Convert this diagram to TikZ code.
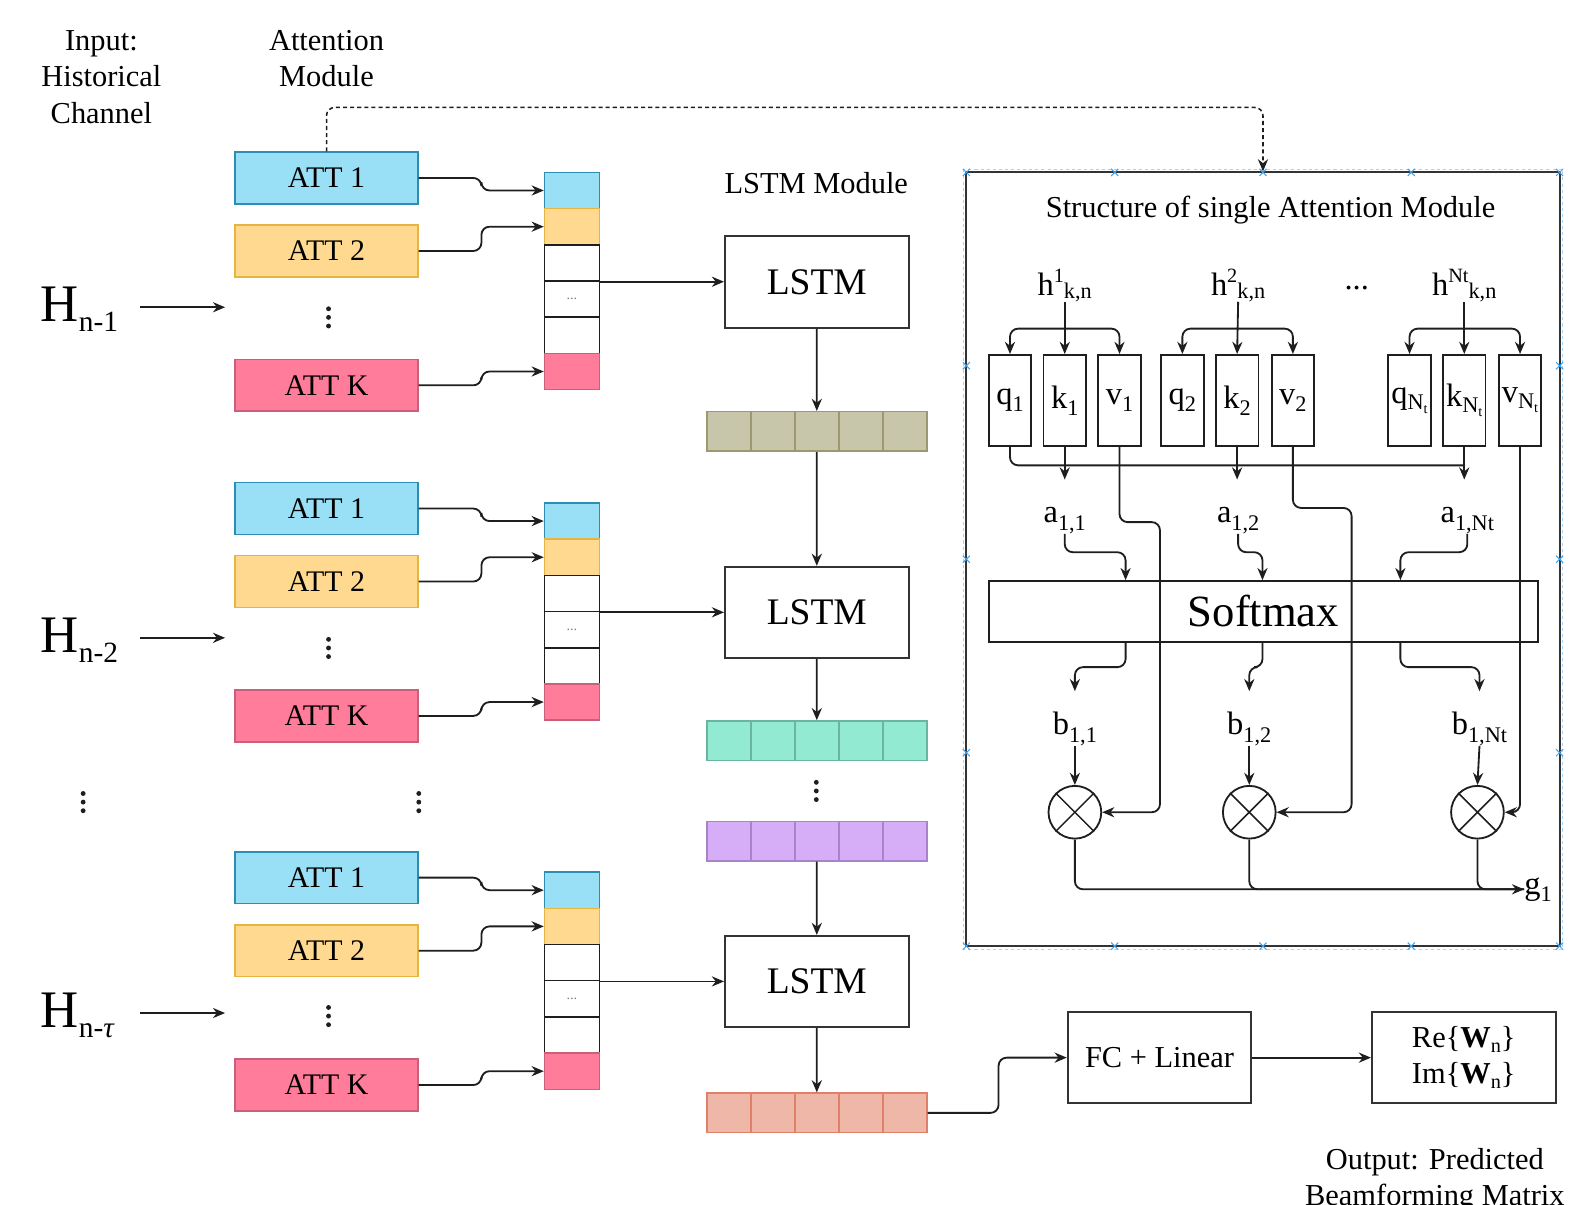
\documentclass[tikz,border=0pt]{standalone}
\usepackage{fontspec}
\setmainfont{Liberation Serif}
\usetikzlibrary{arrows.meta,calc}
\definecolor{att1}{HTML}{99E0F6}
\definecolor{att1d}{HTML}{2E8DB3}
\definecolor{att2}{HTML}{FED98F}
\definecolor{att2d}{HTML}{E6B440}
\definecolor{attk}{HTML}{FF7C9A}
\definecolor{attkd}{HTML}{C8607C}
\definecolor{wht}{HTML}{FFFFFF}
\definecolor{whtd}{HTML}{1E1E1E}
\definecolor{olv}{HTML}{C7C6AA}
\definecolor{olvd}{HTML}{9A9970}
\definecolor{tel}{HTML}{92EAD3}
\definecolor{teld}{HTML}{6AB5A0}
\definecolor{prp}{HTML}{D6AEF8}
\definecolor{prpd}{HTML}{A983C8}
\definecolor{slm}{HTML}{EEB7A7}
\definecolor{slmd}{HTML}{E0806A}
\definecolor{linec}{HTML}{1E1E1E}
\definecolor{boxd}{HTML}{333333}
\definecolor{selb}{HTML}{3FA2EE}
\definecolor{sell}{HTML}{A8D2F7}
\newcommand{\myfs}[1]{\fontsize{#1}{#1}\selectfont}
\newcommand{\sbx}[3]{\raisebox{#1}{\fontsize{#2}{#2}\selectfont #3}}
\begin{document}
\begin{tikzpicture}[x=1pt,y=-1pt,
  conn/.style={draw=linec,line width=1.8pt},
  arr/.style={conn,-{Stealth[length=12pt,width=10pt]}},
  rc/.style={rounded corners=8pt},
  attstyle/.style={draw=#1d, fill=#1, line width=1.5pt, minimum width=180, minimum height=51, inner sep=0pt, font=\myfs{29.5}},
  cell/.style={draw=#1d, fill=#1, line width=1.5pt, minimum width=54, minimum height=35.7, inner sep=0pt},
  vcell/.style={draw=#1d, fill=#1, line width=1.5pt, minimum width=43.4, minimum height=39, inner sep=0pt},
  bigbox/.style={draw=boxd, line width=2pt, fill=white, minimum width=181, minimum height=90, inner sep=0pt},
  qkv/.style={draw=linec, line width=1.8pt, minimum width=42, minimum height=90, inner sep=0pt, font=\myfs{32}},
  lbl/.style={inner sep=0pt, font=\myfs{32}},
  txt/.style={inner sep=0pt, font=\myfs{30}},
  otimes/.style={circle, draw=linec, line width=1.8pt, minimum size=52, inner sep=0pt}
]
\useasboundingbox (0,0) rectangle (1568,1188);

% ---- top labels
\node[txt, align=center, font=\fontsize{30}{36}\selectfont] (inlbl) at (100,76) {Input:\\Historical\\Channel};
\node[txt, align=center, font=\fontsize{30}{36}\selectfont] (attlbl) at (322,58) {Attention\\Module};
\node[txt] (lstmlbl) at (805,181) {LSTM Module};

% ---- three rows
\foreach \r/\o/\hy/\lab in {1/0/303/{n-1}, 2/326/629/{n-2}, 3/690/999/{n-\textit{τ}}}{
  \node[anchor=base west, inner sep=0pt, font=\myfs{52}] (H\r) at (40,\hy+14) {H\sbx{-10pt}{29}{\lab}};
  \coordinate (hs\r) at (138,\hy);
  \coordinate (he\r) at (222,\hy);
  \draw[arr] (hs\r) -- (he\r);
  \node[attstyle=att1] (attA\r) at (322,175.5+\o) {ATT 1};
  \node[attstyle=att2] (attB\r) at (322,247.5+\o) {ATT 2};
  \node[attstyle=attk] (attK\r) at (322,380+\o) {ATT K};
  \foreach \i/\c in {1/att1,2/att2,3/wht,4/wht,5/wht,6/attk}{
    \node[cell=\c] (s\r\i) at (564,{170+\o+(\i-0.5)*35.7}) {};
  }
  \node[inner sep=0pt, font=\myfs{14}, text=gray] at (s\r4) {...};
  \draw[arr,rc] (attA\r.east) -- ++(62,0) |- (s\r1.west);
  \draw[arr,rc] (attB\r.east) -- ++(62,0) |- (s\r2.west);
  \draw[arr,rc] (attK\r.east) -- ++(62,0) |- (s\r6.west);
  \node[bigbox, font=\myfs{37}] (lstm\r) at (805.5,278+\o) {LSTM};
  \draw[arr] (s\r3.south east) -- (s\r3.south east -| lstm\r.west);
}

% ---- vertical dots
\foreach \xx/\yy in {324/313, 324/639, 324/1002, 82/791, 413/791, 805/780}{
  \foreach \k in {-1,0,1} \fill[linec] (\xx,{\yy+\k*8.5}) circle (2.4);
}

% ---- hidden state vectors
\foreach \n/\yy/\c in {olive/425.5/olv, teal/730.5/tel, purple/829.5/prp, salmon/1097.5/slm}{
  \foreach \j in {1,...,5} \node[vcell=\c] (\n\j) at ({697+(\j-0.5)*43.4},\yy) {};
}
\draw[arr] (lstm1.south) -- (olive3.north);
\draw[arr] (olive3.south) -- (lstm2.north);
\draw[arr] (lstm2.south) -- (teal3.north);
\draw[arr] (purple3.south) -- (lstm3.north);
\draw[arr] (lstm3.south) -- (salmon3.north);

% ---- output
\node[bigbox, font=\myfs{30}] (fc) at (1143.5,1043) {FC + Linear};
\node[bigbox, align=center, font=\fontsize{30}{36}\selectfont] (out) at (1443.5,1043) {Re\{\textbf{W}\sbx{-5pt}{20}{n}\}\\Im\{\textbf{W}\sbx{-5pt}{20}{n}\}};
\draw[arr,rc] (salmon5.east) -- ++(70,0) |- (fc.west);
\draw[arr] (fc.east) -- (out.west);
\node[txt, anchor=base] (outl1) at (1415,1153) {Output: Predicted};
\node[txt, anchor=base] (outl2) at (1415,1189) {Beamforming Matrix};

% ---- attention structure box
\node[draw=boxd, line width=2pt, minimum width=585, minimum height=763, inner sep=0pt] (attbox) at (1245.5,551.5) {};
\draw[sell, dashed, line width=1pt] ($(attbox.north west)+(-2,-2)$) rectangle ($(attbox.south east)+(2,2)$);
\foreach \xx in {953,1099.25,1245.5,1391.75,1538}{
  \foreach \yy in {170,933}{
    \draw[selb,line width=1pt] (\xx-3.5,\yy-3.5) -- (\xx+3.5,\yy+3.5) (\xx-3.5,\yy+3.5) -- (\xx+3.5,\yy-3.5);
  }
}
\foreach \xx in {953,1538}{
  \foreach \yy in {360.75,551.5,742.25}{
    \draw[selb,line width=1pt] (\xx-3.5,\yy-3.5) -- (\xx+3.5,\yy+3.5) (\xx-3.5,\yy+3.5) -- (\xx+3.5,\yy-3.5);
  }
}
\draw[conn, line width=1.5pt, dash pattern=on 4pt off 3pt, rounded corners=8pt, -{Stealth[length=12pt,width=10pt]}] (attA1.north) |- ($(attbox.north)+(0,-63)$) -- (attbox.north);
\node[txt] (sttitle) at (1253,207) {Structure of single Attention Module};

% h labels
\node[lbl, anchor=base] (h1) at (1050,291) {h\sbx{12pt}{20}{1}\sbx{-3pt}{22}{k,n}};
\node[lbl, anchor=base] (h2) at (1221,291) {h\sbx{12pt}{20}{2}\sbx{-3pt}{22}{k,n}};
\node[lbl, anchor=base] (hN) at (1444,291) {h\sbx{12pt}{20}{Nt}\sbx{-3pt}{22}{k,n}};
\node[lbl, anchor=base] (hdots) at (1338,285) {...};

% q k v boxes
\node[qkv] (q1) at (996,395) {q\sbx{-7pt}{22}{1}};
\node[qkv] (k1) at (1050,395) {k\sbx{-7pt}{22}{1}};
\node[qkv] (v1) at (1104,395) {v\sbx{-7pt}{22}{1}};
\node[qkv] (q2) at (1166,395) {q\sbx{-7pt}{22}{2}};
\node[qkv] (k2) at (1220,395) {k\sbx{-7pt}{22}{2}};
\node[qkv] (v2) at (1275,395) {v\sbx{-7pt}{22}{2}};
\node[qkv] (qN) at (1390,395) {q\sbx{-6pt}{22}{N\sbx{-4pt}{14}{t}}};
\node[qkv] (kN) at (1444,395) {k\sbx{-6pt}{22}{N\sbx{-4pt}{14}{t}}};
\node[qkv] (vN) at (1499,395) {v\sbx{-6pt}{22}{N\sbx{-4pt}{14}{t}}};

\foreach \g in {1,2,N}{
  \draw[arr] (h\g.south) -- (k\g.north);
  \draw[arr,rc] ($(k\g.north)+(0,-25)$) -| (q\g.north);
  \draw[arr,rc] ($(k\g.north)+(0,-25)$) -| (v\g.north);
}

% q line and k arrows
\draw[conn,rc] (q1.south) |- ($(kN.south)+(0,18)$);
\draw[arr] (k1.south) -- ++(0,32);
\draw[arr] (k2.south) -- ++(0,32);
\draw[arr] (kN.south) -- ++(0,32);

% a labels
\node[lbl, anchor=base] (a1) at (1050,515) {a\sbx{-8pt}{22}{1,1}};
\node[lbl, anchor=base] (a2) at (1221,515) {a\sbx{-8pt}{22}{1,2}};
\node[lbl, anchor=base] (aN) at (1447,515) {a\sbx{-8pt}{22}{1,Nt}};

% softmax
\node[draw=linec, line width=1.8pt, minimum width=542, minimum height=60, inner sep=0pt, font=\myfs{44}] (sm) at (1246,603) {Softmax};
\draw[arr,rc] (a1.south) -- ++(0,18) -| ($(sm.north)+(-136,0)$);
\draw[arr,rc] (a2.south) -- ++(0,18) -| ($(sm.north)+(-1,0)$);
\draw[arr,rc] (aN.south) -- ++(0,18) -| ($(sm.north)+(135,0)$);

% b labels
\node[lbl, anchor=base] (b1) at (1060,724) {b\sbx{-8pt}{22}{1,1}};
\node[lbl, anchor=base] (b2) at (1232,724) {b\sbx{-8pt}{22}{1,2}};
\node[lbl, anchor=base] (bN) at (1459,724) {b\sbx{-8pt}{22}{1,Nt}};
\draw[arr,rc] ($(sm.south)+(-136,0)$) -- ++(0,24) -| ($(b1.north)+(0,-20)$);
\draw[arr,rc] ($(sm.south)+(-1,0)$) -- ++(0,24) -| ($(b2.north)+(0,-20)$);
\draw[arr,rc] ($(sm.south)+(135,0)$) -- ++(0,24) -| ($(bN.north)+(0,-20)$);

% otimes
\foreach \n/\xx in {1/1060,2/1232,3/1457}{
  \node[otimes] (ot\n) at (\xx,801) {};
  \draw[linec, line width=1.5pt] (ot\n.north east) -- (ot\n.south west) (ot\n.north west) -- (ot\n.south east);
}
\draw[arr] (b1.south) -- (ot1.north);
\draw[arr] (b2.south) -- (ot2.north);
\draw[arr] (bN.south) -- (ot3.north);

% v lines
\draw[arr,rc] (v1.south) -- ++(0,74) -| ($(ot1.east)+(57,0)$) -- (ot1.east);
\draw[arr,rc] (v2.south) -- ++(0,60) -| ($(ot2.east)+(74,0)$) -- (ot2.east);
\draw[arr,rc] (vN.south) |- (ot3.east);

% g1
\node[lbl, anchor=west] (g1) at (1503,877) {g\sbx{-7pt}{22}{1}};
\draw[conn,rc] (ot2.south) |- (g1.west);
\draw[conn,rc] (ot3.south) |- (g1.west);
\draw[arr,rc] (ot1.south) |- (g1.west);
\end{tikzpicture}
\end{document}
